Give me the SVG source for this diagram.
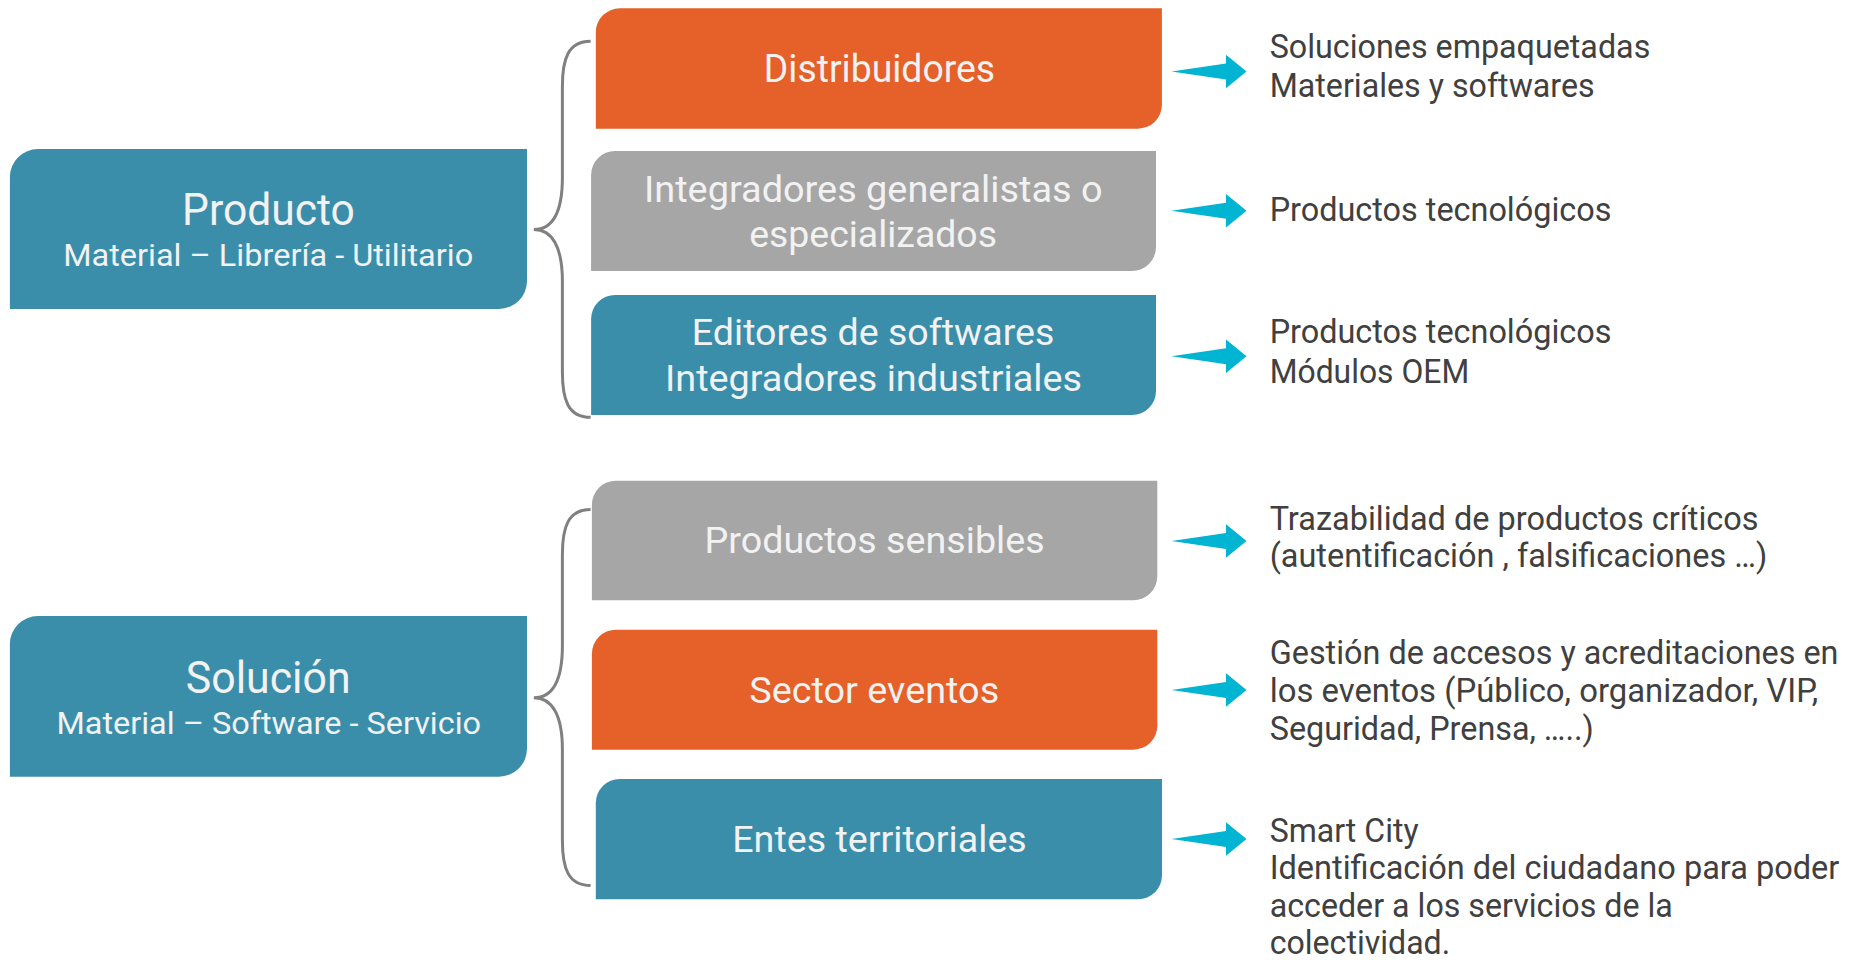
<svg xmlns="http://www.w3.org/2000/svg" width="1858" height="960" viewBox="0 0 1858 960">
<style>
.bt{font-family:Roboto,"Liberation Sans",sans-serif;fill:#F2F2F2;text-anchor:middle}
.rt{font-family:Roboto,"Liberation Sans",sans-serif;fill:#404040;font-size:33px}
.teal{fill:#3B8EAA}.orange{fill:#E66029}.gray{fill:#A6A6A6}
.brace{fill:none;stroke:#808080;stroke-width:3}
.arrow{fill:#00B4D2}
</style>
<defs>
<path id="arr" d="M-75,0 L-20.5,-8 L-20.5,-16.7 L0,0 L-20.5,16.7 L-20.5,8 Z"/>
<path id="br" d="M56.8,0 C34,0 28.6,18 28.6,45 L28.6,136 C28.6,172 18,188.3 0,188.3 C18,188.3 28.6,205 28.6,240 L28.6,331 C28.6,358 34,376 56.8,376"/>
</defs>
<rect width="1858" height="960" fill="#FFFFFF"/>

<g id="producto">
<path class="teal" d="M9.9,177 A28,28 0 0 1 37.9,149 L527,149 L527,281 A28,28 0 0 1 499,309 L9.9,309 Z"/>
<text class="bt" x="268.4" y="225" font-size="44" textLength="172.7" lengthAdjust="spacingAndGlyphs">Producto</text>
<text class="bt" x="268.2" y="265.7" font-size="31" textLength="410" lengthAdjust="spacingAndGlyphs">Material – Librería - Utilitario</text>
</g>

<g id="solucion">
<path class="teal" d="M9.9,644 A28,28 0 0 1 37.9,616 L527,616 L527,748.7 A28,28 0 0 1 499,776.7 L9.9,776.7 Z"/>
<text class="bt" x="268.2" y="692.7" font-size="44" textLength="164.8" lengthAdjust="spacingAndGlyphs">Solución</text>
<text class="bt" x="268.8" y="734" font-size="31" textLength="424.6" lengthAdjust="spacingAndGlyphs">Material – Software - Servicio</text>
</g>

<g id="distribuidores">
<path class="orange" d="M595.8,32.3 A24,24 0 0 1 619.8,8.3 L1161.9,8.3 L1161.9,104.7 A24,24 0 0 1 1137.9,128.7 L595.8,128.7 Z"/>
<text class="bt" x="879.5" y="81.7" font-size="38" textLength="231.3" lengthAdjust="spacingAndGlyphs">Distribuidores</text>
</g>

<g id="integradores">
<path class="gray" d="M591.1,175 A24,24 0 0 1 615.1,151 L1156,151 L1156,247 A24,24 0 0 1 1132,271 L591.1,271 Z"/>
<text class="bt" x="873.3" y="201.7" font-size="37" textLength="458.6" lengthAdjust="spacingAndGlyphs">Integradores generalistas o</text>
<text class="bt" x="873.1" y="246.7" font-size="37" textLength="247.8" lengthAdjust="spacingAndGlyphs">especializados</text>
</g>

<g id="editores">
<path class="teal" d="M591.1,319 A24,24 0 0 1 615.1,295 L1156,295 L1156,391 A24,24 0 0 1 1132,415 L591.1,415 Z"/>
<text class="bt" x="873.1" y="345" font-size="37" textLength="362.5" lengthAdjust="spacingAndGlyphs">Editores de softwares</text>
<text class="bt" x="873.5" y="390.7" font-size="37" textLength="417" lengthAdjust="spacingAndGlyphs">Integradores industriales</text>
</g>

<g id="sensibles">
<path class="gray" d="M591.9,504.7 A24,24 0 0 1 615.9,480.7 L1157.3,480.7 L1157.3,576.3 A24,24 0 0 1 1133.3,600.3 L591.9,600.3 Z"/>
<text class="bt" x="874.6" y="553.3" font-size="37" textLength="340" lengthAdjust="spacingAndGlyphs">Productos sensibles</text>
</g>

<g id="eventos">
<path class="orange" d="M591.9,653.7 A24,24 0 0 1 615.9,629.7 L1157.3,629.7 L1157.3,725.7 A24,24 0 0 1 1133.3,749.7 L591.9,749.7 Z"/>
<text class="bt" x="874.2" y="702.7" font-size="37" textLength="249.9" lengthAdjust="spacingAndGlyphs">Sector eventos</text>
</g>

<g id="entes">
<path class="teal" d="M595.8,803 A24,24 0 0 1 619.8,779 L1162,779 L1162,875.3 A24,24 0 0 1 1138,899.3 L595.8,899.3 Z"/>
<text class="bt" x="879.5" y="852.3" font-size="37" textLength="294.6" lengthAdjust="spacingAndGlyphs">Entes territoriales</text>
</g>

<g id="connectors">
<use href="#br" class="brace" transform="translate(533.8,41.3)"/>
<use href="#br" class="brace" transform="translate(533.8,509.5)"/>
<use href="#arr" class="arrow" transform="translate(1246.5,71.5)"/>
<use href="#arr" class="arrow" transform="translate(1246.5,210.7)"/>
<use href="#arr" class="arrow" transform="translate(1246.5,356.3)"/>
<use href="#arr" class="arrow" transform="translate(1246.5,541)"/>
<use href="#arr" class="arrow" transform="translate(1246.5,690)"/>
<use href="#arr" class="arrow" transform="translate(1246.5,839)"/>
</g>

<g id="desc1">
<text class="rt" x="1269.7" y="58.3" textLength="380.6" lengthAdjust="spacingAndGlyphs">Soluciones empaquetadas</text>
<text class="rt" x="1269.7" y="96.7" textLength="325" lengthAdjust="spacingAndGlyphs">Materiales y softwares</text>
</g>
<g id="desc2">
<text class="rt" x="1269.7" y="220.7" textLength="341.7" lengthAdjust="spacingAndGlyphs">Productos tecnológicos</text>
</g>
<g id="desc3">
<text class="rt" x="1269.7" y="343.3" textLength="341.7" lengthAdjust="spacingAndGlyphs">Productos tecnológicos</text>
<text class="rt" x="1269.7" y="382.7" textLength="199.5" lengthAdjust="spacingAndGlyphs">Módulos OEM</text>
</g>
<g id="desc4">
<text class="rt" x="1269.7" y="530" textLength="488.9" lengthAdjust="spacingAndGlyphs">Trazabilidad de productos críticos</text>
<text class="rt" x="1269.7" y="567.3" textLength="497.5" lengthAdjust="spacingAndGlyphs">(autentificación , falsificaciones …)</text>
</g>
<g id="desc5">
<text class="rt" x="1269.7" y="664" textLength="568.8" lengthAdjust="spacingAndGlyphs">Gestión de accesos y acreditaciones en</text>
<text class="rt" x="1269.7" y="702.3" textLength="548.5" lengthAdjust="spacingAndGlyphs">los eventos (Público, organizador, VIP,</text>
<text class="rt" x="1269.7" y="740" textLength="324.1" lengthAdjust="spacingAndGlyphs">Seguridad, Prensa, …..)</text>
</g>
<g id="desc6">
<text class="rt" x="1269.7" y="841.7" textLength="148.9" lengthAdjust="spacingAndGlyphs">Smart City</text>
<text class="rt" x="1269.7" y="879.3" textLength="569.7" lengthAdjust="spacingAndGlyphs">Identificación del ciudadano para poder</text>
<text class="rt" x="1269.7" y="916.7" textLength="403.1" lengthAdjust="spacingAndGlyphs">acceder a los servicios de la</text>
<text class="rt" x="1269.7" y="954.3" textLength="180.5" lengthAdjust="spacingAndGlyphs">colectividad.</text>
</g>
</svg>
